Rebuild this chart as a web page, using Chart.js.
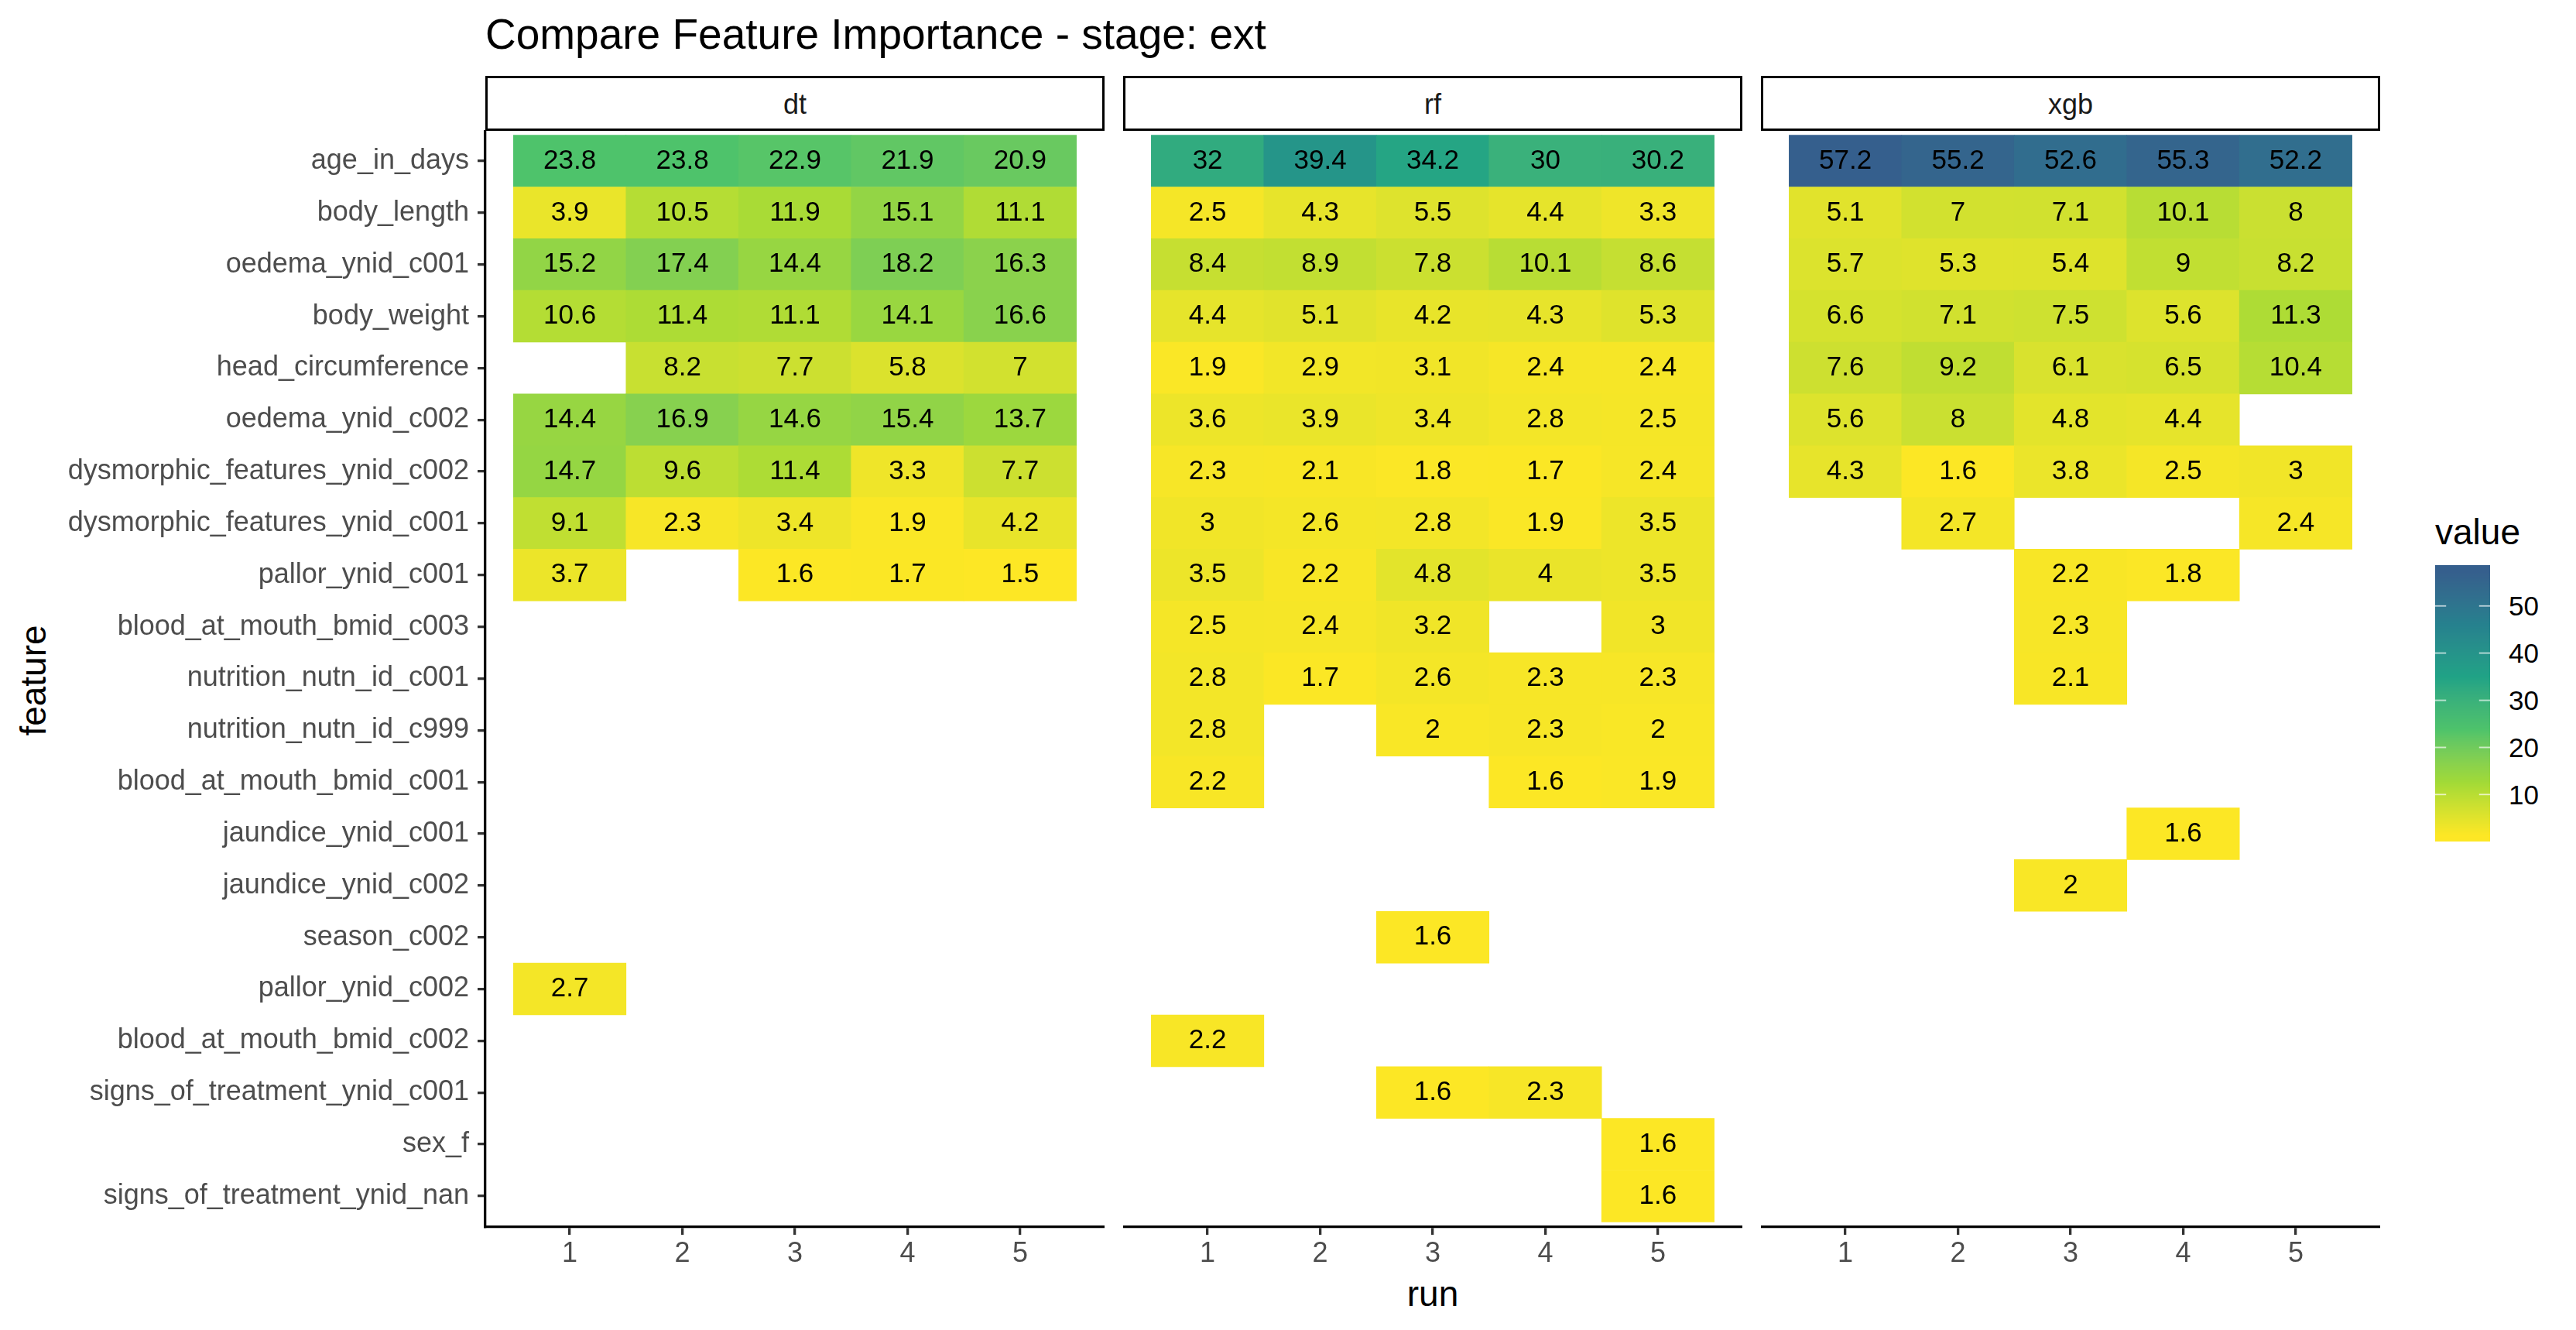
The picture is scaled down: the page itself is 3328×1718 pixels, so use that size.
<!DOCTYPE html>
<html>
<head>
<meta charset="utf-8">
<title>Compare Feature Importance - stage: ext</title>
<script src="https://cdn.jsdelivr.net/npm/chart.js"></script>
<style>
  html, body { margin: 0; padding: 0; background: #fff; }
  body { width: 3328px; height: 1718px; position: relative; overflow: hidden;
         font-family: "Liberation Sans", Arial, sans-serif; }
  .txt { position: absolute; white-space: nowrap; }
  canvas { position: absolute; }
  .strip { position: absolute; box-sizing: border-box; border: 3.3px solid #000; background: #fff; }
</style>
</head>
<body>
<div class="txt" style="left:627px; top:17.4px; font-size:55px; line-height:55px; color:#000;">Compare Feature Importance - stage: ext</div>
<div class="txt" style="left:42.8px; top:878.8px; font-size:46px; line-height:46px; color:#000; transform:translate(-50%,-50%) rotate(-90deg);">feature</div>
<div class="txt" style="left:1851px; top:1670.5px; font-size:46px; line-height:46px; color:#000; transform:translate(-50%,-50%);">run</div>
<div class="txt" style="left:3146px; top:663.5px; font-size:46px; line-height:46px; color:#000;">value</div>

<script>
  // ---- data ----
  const _ = null;
  const features = [
    "age_in_days", "body_length", "oedema_ynid_c001", "body_weight",
    "head_circumference", "oedema_ynid_c002", "dysmorphic_features_ynid_c002",
    "dysmorphic_features_ynid_c001", "pallor_ynid_c001", "blood_at_mouth_bmid_c003",
    "nutrition_nutn_id_c001", "nutrition_nutn_id_c999", "blood_at_mouth_bmid_c001",
    "jaundice_ynid_c001", "jaundice_ynid_c002", "season_c002", "pallor_ynid_c002",
    "blood_at_mouth_bmid_c002", "signs_of_treatment_ynid_c001", "sex_f",
    "signs_of_treatment_ynid_nan"
  ];
  const runs = [1, 2, 3, 4, 5];
  const models = ["dt", "rf", "xgb"];

  // one row per feature, one column per run
  const dtValues = [
    [23.8, 23.8, 22.9, 21.9, 20.9],
    [3.9, 10.5, 11.9, 15.1, 11.1],
    [15.2, 17.4, 14.4, 18.2, 16.3],
    [10.6, 11.4, 11.1, 14.1, 16.6],
    [_, 8.2, 7.7, 5.8, 7],
    [14.4, 16.9, 14.6, 15.4, 13.7],
    [14.7, 9.6, 11.4, 3.3, 7.7],
    [9.1, 2.3, 3.4, 1.9, 4.2],
    [3.7, _, 1.6, 1.7, 1.5],
    [_, _, _, _, _],
    [_, _, _, _, _],
    [_, _, _, _, _],
    [_, _, _, _, _],
    [_, _, _, _, _],
    [_, _, _, _, _],
    [_, _, _, _, _],
    [2.7, _, _, _, _],
    [_, _, _, _, _],
    [_, _, _, _, _],
    [_, _, _, _, _],
    [_, _, _, _, _]
  ];
  const rfValues = [
    [32, 39.4, 34.2, 30, 30.2],
    [2.5, 4.3, 5.5, 4.4, 3.3],
    [8.4, 8.9, 7.8, 10.1, 8.6],
    [4.4, 5.1, 4.2, 4.3, 5.3],
    [1.9, 2.9, 3.1, 2.4, 2.4],
    [3.6, 3.9, 3.4, 2.8, 2.5],
    [2.3, 2.1, 1.8, 1.7, 2.4],
    [3, 2.6, 2.8, 1.9, 3.5],
    [3.5, 2.2, 4.8, 4, 3.5],
    [2.5, 2.4, 3.2, _, 3],
    [2.8, 1.7, 2.6, 2.3, 2.3],
    [2.8, _, 2, 2.3, 2],
    [2.2, _, _, 1.6, 1.9],
    [_, _, _, _, _],
    [_, _, _, _, _],
    [_, _, 1.6, _, _],
    [_, _, _, _, _],
    [2.2, _, _, _, _],
    [_, _, 1.6, 2.3, _],
    [_, _, _, _, 1.6],
    [_, _, _, _, 1.6]
  ];
  const xgbValues = [
    [57.2, 55.2, 52.6, 55.3, 52.2],
    [5.1, 7, 7.1, 10.1, 8],
    [5.7, 5.3, 5.4, 9, 8.2],
    [6.6, 7.1, 7.5, 5.6, 11.3],
    [7.6, 9.2, 6.1, 6.5, 10.4],
    [5.6, 8, 4.8, 4.4, _],
    [4.3, 1.6, 3.8, 2.5, 3],
    [_, 2.7, _, _, 2.4],
    [_, _, 2.2, 1.8, _],
    [_, _, 2.3, _, _],
    [_, _, 2.1, _, _],
    [_, _, _, _, _],
    [_, _, _, _, _],
    [_, _, _, 1.6, _],
    [_, _, 2, _, _],
    [_, _, _, _, _],
    [_, _, _, _, _],
    [_, _, _, _, _],
    [_, _, _, _, _],
    [_, _, _, _, _],
    [_, _, _, _, _]
  ];
  const colorTicks = [10, 20, 30, 40, 50];

  // ---- layout ----
  const panelLeft = [627, 1451, 2275];
  const panelWidth = 800;
  const panelTop = 168;
  const panelHeight = 1417;
  const xAxisHeight = 100;
  const FONT = '"Liberation Sans", Arial, sans-serif';

  Chart.defaults.font.family = FONT;

  // ---- colour scale: viridis(6, begin = 0.3, direction = -1), Lab interpolation ----
  const paletteHex = ["#FDE725", "#A2DA37", "#4EC36B", "#20A386", "#26818E", "#355F8D"];

  function hexToRgb(h) {
    return [1, 3, 5].map(i => parseInt(h.slice(i, i + 2), 16));
  }
  function rgbToLab(rgb) {
    const lin = c => { c /= 255; return c <= 0.04045 ? c / 12.92 : Math.pow((c + 0.055) / 1.055, 2.4); };
    const [R, G, B] = rgb.map(lin);
    const X = (0.4124564 * R + 0.3575761 * G + 0.1804375 * B) / 0.95047;
    const Y = (0.2126729 * R + 0.7151522 * G + 0.0721750 * B);
    const Z = (0.0193339 * R + 0.1191920 * G + 0.9503041 * B) / 1.08883;
    const f = t => t > 0.008856 ? Math.cbrt(t) : 7.787 * t + 16 / 116;
    const fx = f(X), fy = f(Y), fz = f(Z);
    return [116 * fy - 16, 500 * (fx - fy), 200 * (fy - fz)];
  }
  function labToRgb(lab) {
    const [L, a, b] = lab;
    const fy = (L + 16) / 116, fx = fy + a / 500, fz = fy - b / 200;
    const finv = t => t * t * t > 0.008856 ? t * t * t : (t - 16 / 116) / 7.787;
    const X = finv(fx) * 0.95047, Y = finv(fy), Z = finv(fz) * 1.08883;
    const R = 3.2404542 * X - 1.5371385 * Y - 0.4985314 * Z;
    const G = -0.9692660 * X + 1.8760108 * Y + 0.0415560 * Z;
    const B = 0.0556434 * X - 0.2040259 * Y + 1.0572252 * Z;
    const gam = c => c <= 0.0031308 ? 12.92 * c : 1.055 * Math.pow(c, 1 / 2.4) - 0.055;
    return [R, G, B].map(c => Math.round(Math.min(1, Math.max(0, gam(c))) * 255));
  }
  const paletteLab = paletteHex.map(h => rgbToLab(hexToRgb(h)));

  const allValues = [dtValues, rfValues, xgbValues].flat(2).filter(v => v !== null);
  const vmin = Math.min(...allValues);
  const vmax = Math.max(...allValues);

  function fillColor(v) {
    const x = Math.min(1, Math.max(0, (v - vmin) / (vmax - vmin)));
    const seg = x * (paletteLab.length - 1);
    const i = Math.min(paletteLab.length - 2, Math.floor(seg));
    const t = seg - i;
    const a = paletteLab[i], b = paletteLab[i + 1];
    const rgb = labToRgb([0, 1, 2].map(k => a[k] + (b[k] - a[k]) * t));
    return `rgb(${rgb[0]},${rgb[1]},${rgb[2]})`;
  }

  // ---- labels on the tiles ----
  const cellLabels = {
    id: 'cellLabels',
    afterDatasetsDraw(chart) {
      const ctx = chart.ctx;
      const meta = chart.getDatasetMeta(0);
      const data = chart.data.datasets[0].data;
      ctx.save();
      ctx.font = '35px ' + FONT;
      ctx.fillStyle = '#000';
      ctx.textAlign = 'center';
      ctx.textBaseline = 'middle';
      meta.data.forEach((bar, i) => {
        const p = bar.getCenterPoint();
        ctx.fillText(String(data[i].v), p.x, p.y);
      });
      ctx.restore();
    }
  };

  function zeroPadding(scale) {
    scale.paddingLeft = 0; scale.paddingRight = 0;
    scale.paddingTop = 0; scale.paddingBottom = 0;
  }

  function makePanel(k) {
    const values = [dtValues, rfValues, xgbValues][k];
    const showY = k === 0;

    // facet strip
    const strip = document.createElement('div');
    strip.className = 'strip';
    strip.style.cssText = `left:${panelLeft[k]}px; top:97.5px; width:${panelWidth}px; height:71px;`;
    document.body.appendChild(strip);
    const stripText = document.createElement('div');
    stripText.className = 'txt';
    stripText.textContent = models[k];
    stripText.style.cssText = `left:${panelLeft[k] + panelWidth / 2}px; top:135px; font-size:36px; line-height:36px; color:#1A1A1A; transform:translate(-50%,-50%);`;
    document.body.appendChild(stripText);

    // canvas
    const canvas = document.createElement('canvas');
    const left = showY ? 0 : panelLeft[k];
    const width = showY ? panelLeft[k] + panelWidth : panelWidth;
    const height = panelHeight + xAxisHeight;
    canvas.width = width;
    canvas.height = height;
    canvas.style.cssText = `left:${left}px; top:${panelTop}px; width:${width}px; height:${height}px;`;
    document.body.appendChild(canvas);

    const cells = [];
    values.forEach((row, i) => row.forEach((v, j) => {
      if (v !== null) cells.push({ x: [runs[j] - 0.5, runs[j] + 0.5], y: i, v: v });
    }));

    const axisGrid = {
      display: true,
      drawOnChartArea: false,
      drawTicks: true,
      offset: false,
      tickLength: 10,
      tickColor: '#333333',
      tickWidth: 3.3,
      lineWidth: 3.3,
      color: '#333333'
    };

    new Chart(canvas, {
      type: 'bar',
      data: {
        datasets: [{
          data: cells,
          backgroundColor: c => (c.raw ? fillColor(c.raw.v) : '#fff'),
          borderWidth: 0,
          barPercentage: 1,
          categoryPercentage: 1
        }]
      },
      options: {
        indexAxis: 'y',
        responsive: false,
        animation: false,
        events: [],
        layout: { padding: 0 },
        plugins: { legend: { display: false }, tooltip: { enabled: false } },
        scales: {
          x: {
            type: 'linear',
            min: 0.25,
            max: 5.75,
            beginAtZero: false,
            offset: false,
            afterBuildTicks: s => { s.ticks = runs.map(r => ({ value: r })); },
            afterFit: s => { s.height = xAxisHeight; zeroPadding(s); },
            ticks: {
              color: '#4D4D4D',
              font: { size: 36 },
              padding: 3,
              maxRotation: 0,
              autoSkip: false,
              callback: v => String(v)
            },
            grid: axisGrid,
            border: { display: true, color: '#000', width: 3.3 }
          },
          y: {
            type: 'linear',
            display: showY,
            reverse: true,
            min: -0.6,
            max: features.length - 0.4,
            offset: false,
            afterBuildTicks: s => { s.ticks = features.map((f, i) => ({ value: i })); },
            afterFit: s => { s.width = showY ? panelLeft[0] : 0; zeroPadding(s); },
            ticks: {
              color: '#4D4D4D',
              font: { size: 36 },
              padding: 11,
              autoSkip: false,
              callback: v => features[v]
            },
            grid: axisGrid,
            border: { display: showY, color: '#000', width: 3.3 }
          }
        }
      },
      plugins: [cellLabels]
    });
  }

  models.forEach((m, k) => makePanel(k));

  // ---- colour bar legend ----
  const bar = { left: 3146, top: 729.5, width: 71, height: 357.5, nbin: 20 };
  const legendCanvas = document.createElement('canvas');
  legendCanvas.width = bar.width;
  legendCanvas.height = Math.round(bar.height);
  legendCanvas.style.cssText = `left:${bar.left}px; top:${bar.top}px; width:${bar.width}px; height:${bar.height}px;`;
  document.body.appendChild(legendCanvas);
  const lctx = legendCanvas.getContext('2d');
  const H = legendCanvas.height;
  for (let py = 0; py < H; py++) {
    const f = 1 - (py + 0.5) / H;                       // fraction from bottom
    const pos = Math.min(1, Math.max(0, (f * bar.nbin - 0.5) / (bar.nbin - 1)));
    lctx.fillStyle = fillColor(vmin + pos * (vmax - vmin));
    lctx.fillRect(0, py, bar.width, 1);
  }
  const tickY = v => bar.height * (1 - (((v - vmin) / (vmax - vmin)) * (bar.nbin - 1) + 0.5) / bar.nbin);
  lctx.strokeStyle = '#fff';
  lctx.lineWidth = 1.3;
  colorTicks.forEach(v => {
    const y = tickY(v) * H / bar.height;
    lctx.beginPath();
    lctx.moveTo(0, y); lctx.lineTo(bar.width / 5, y);
    lctx.moveTo(bar.width * 4 / 5, y); lctx.lineTo(bar.width, y);
    lctx.stroke();
    const lab = document.createElement('div');
    lab.className = 'txt';
    lab.textContent = String(v);
    lab.style.cssText = `left:3241px; top:${bar.top + tickY(v) - 17.5}px; font-size:35px; line-height:35px; color:#000;`;
    document.body.appendChild(lab);
  });
</script>
</body>
</html>
